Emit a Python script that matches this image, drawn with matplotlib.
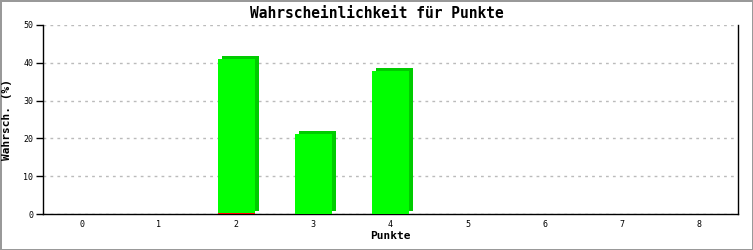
import matplotlib.pyplot as plt
import matplotlib.transforms as mtransforms

punkte = [0, 1, 2, 3, 4, 5, 6, 7, 8]
wahrsch = [0, 0, 41.0, 21.2, 37.8, 0, 0, 0, 0]
rest = [0, 0, 0.25, 0, 0, 0, 0, 0, 0]
yticks = [0, 10, 20, 30, 40, 50]

mono = 'DejaVu Sans Mono'

fig = plt.figure(figsize=(7.53, 2.50), dpi=100)
fig.patch.set_edgecolor('#999999')
fig.patch.set_linewidth(2)
ax = fig.add_axes([43 / 753, 36 / 250, 695 / 753, 189 / 250])

# 3d look: darker copy shifted a few pixels right/up behind the front bar
depth = mtransforms.offset_copy(ax.transData, fig=fig, x=4, y=3, units='dots')
width = 0.48
ax.bar(punkte, wahrsch, width=width, color='#00cc00', transform=depth, zorder=2)
ax.bar(punkte, wahrsch, width=width, color='#00ff00', zorder=3)
ax.bar(punkte, rest, width=width, color='#ff0000', zorder=4)

ax.set_xlim(-0.5, 8.5)
ax.set_ylim(0, 50)
ax.set_xticks(punkte)
ax.set_yticks(yticks)
ax.tick_params(axis='x', length=0, pad=4, labelsize=6)
ax.tick_params(axis='y', length=5, width=1, pad=2, labelsize=6)
for lbl in ax.get_xticklabels() + ax.get_yticklabels():
    lbl.set_family(mono)

ax.grid(axis='y', color='#bbbbbb', linestyle=(0, (2, 3)), linewidth=1)
ax.set_axisbelow(True)
ax.spines['top'].set_visible(False)
for s in ['left', 'right', 'bottom']:
    ax.spines[s].set_linewidth(1)

fig.text(0.5, 1 - 14 / 250, 'Wahrscheinlichkeit für Punkte', family=mono,
         fontweight='bold', fontsize=10.5, ha='center', va='center')
ax.set_xlabel('Punkte', family=mono, fontweight='bold', fontsize=8, labelpad=2)
ax.set_ylabel('Wahrsch. (%)', family=mono, fontweight='bold', fontsize=8)
ax.yaxis.set_label_coords(-31 / 695, 0.5)

fig.savefig('out.png', dpi=100, edgecolor=fig.get_edgecolor())
